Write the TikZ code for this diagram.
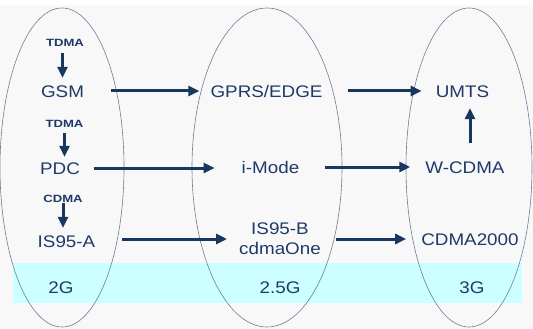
\documentclass[tikz,border=0pt]{standalone}
\usepackage{fontspec}
\usetikzlibrary{arrows.meta}

\newfontfamily\genfont{Liberation Sans}[FakeStretch=1.12]
\newfontfamily\tagfont{Liberation Sans Bold}[FakeStretch=1.25]

\definecolor{navy}{HTML}{1F3A68}
\definecolor{arrownavy}{HTML}{17375E}
\definecolor{rim}{HTML}{6E7C9A}
\definecolor{paper}{HTML}{F8F8F8}
\definecolor{band}{HTML}{CCFFFF}

\begin{document}
\begin{tikzpicture}[x = 1pt, y = -1pt, > = {Triangle[length = 11pt, width = 10pt]},
	tech/.style = {anchor = base, inner sep = 0pt, text = navy, font = \genfont\fontsize{16.8}{20}\selectfont, text height = 12pt, text depth = 0pt},
	pair/.style = {inner sep = 0pt, text = navy, align = center, font = \genfont\fontsize{16.8}{20}\selectfont},
	tag/.style = {anchor = base, inner sep = 0pt, text = navy, font = \tagfont\fontsize{10.5}{12}\selectfont, text height = 7.5pt, text depth = 0pt}]

	% Page and the generation band
	
	\useasboundingbox (0, 0) rectangle (533, 329);
	\fill [white] (0, 0) rectangle (533, 329);
	\fill [paper] (0, 5) rectangle (533, 329);
	\fill [band] (13, 263) rectangle (522, 303);
	
	% The three generations
	
	\begin{scope}[rim, line width = 0.6pt]
	
		\draw (62, 167.5) ellipse [x radius = 62pt, y radius = 159.5pt];
		\draw (267, 167.5) ellipse [x radius = 75pt, y radius = 159.5pt];
		\draw (469, 167.5) ellipse [x radius = 63pt, y radius = 159.5pt];
		
	\end{scope}
	
	% 2G
	
	\node [tag] (tdmaA) at (65, 47) {TDMA};
	\node [tech] (gsm) at (62.5, 97) {GSM};
	\node [tag] (tdmaB) at (64.5, 127) {TDMA};
	\node [tech] (pdc) at (60, 174) {PDC};
	\node [tag] (cdma) at (63, 202) {CDMA};
	\node [tech] (isa) at (66.5, 247) {IS95-A};
	\node [tech] (twoG) at (61, 293) {2G};
	
	% 2.5G
	
	\node [tech] (gprs) at (266.5, 97) {GPRS/EDGE};
	\node [tech] (imode) at (270.5, 173) {i-Mode};
	\node [pair] (isb) at (280, 239) {IS95-B\\cdmaOne};
	\node [tech] (halfG) at (280, 293) {2.5G};
	
	% 3G
	
	\node [tech] (umts) at (462.5, 97) {UMTS};
	\node [tech] (wcdma) at (465, 173) {W-CDMA};
	\node [tech] (cdmak) at (470, 245) {CDMA2000};
	\node [tech] (threeG) at (472, 293) {3G};
	
	% Evolution paths
	
	\begin{scope}[->, arrownavy, line width = 3pt]
	
		\draw [shorten < = 6pt, shorten > = 7pt] (tdmaA.south -| gsm.north) -- (gsm.north);
		\draw [shorten < = 6pt, shorten > = 5pt] (tdmaB.south) -- (tdmaB.south |- pdc.north);
		\draw [shorten < = 1pt, shorten > = 7pt] (cdma.south) -- (cdma.south |- isa.north);
		
		\draw [shorten < = 27pt, shorten > = 11pt] (gsm.east) -- (gprs.west);
		\draw [shorten < = 14pt, shorten > = 27pt] (pdc.east) -- (pdc.east -| imode.west);
		\draw [shorten < = 27pt, shorten > = 12pt] (isb.west -| isa.east) -- (isb.west);
		
		\draw [shorten < = 25pt, shorten > = 14pt] (gprs.east) -- (umts.west);
		\draw [shorten < = 26pt, shorten > = 15pt] (imode.east) -- (wcdma.west);
		\draw [shorten < = 15pt, shorten > = 15pt] (isb.east) -- (isb.east -| cdmak.west);
		
		\draw [shorten < = 18pt, shorten > = 11pt] ([xshift = 5pt] wcdma.north) -- ([xshift = 5pt] wcdma.north |- umts.south);
		
	\end{scope}

\end{tikzpicture}
\end{document}
